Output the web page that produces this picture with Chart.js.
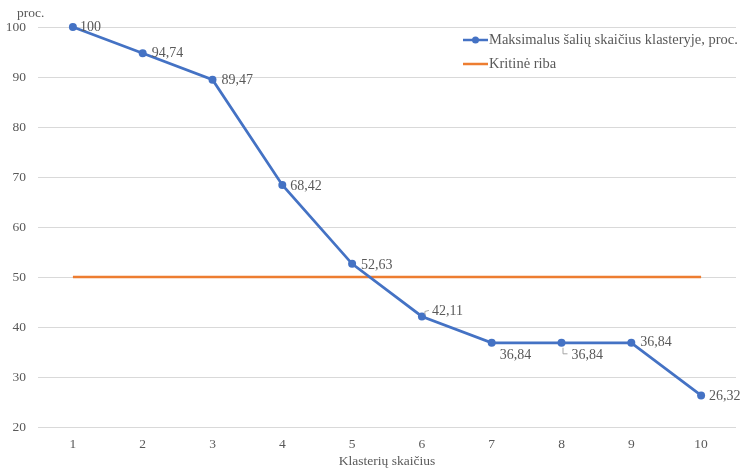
<!DOCTYPE html>
<html>
<head>
<meta charset="utf-8">
<script src="https://cdn.jsdelivr.net/npm/chart.js@4/dist/chart.umd.min.js"></script>
<style>
  html, body { margin: 0; padding: 0; background: #fff; }
  #wrap { width: 741px; height: 468px; }
</style>
</head>
<body>
<div id="wrap"><canvas id="c" width="741" height="468"></canvas></div>
<script>
// Number of clusters on the x axis
const categories = ['1', '2', '3', '4', '5', '6', '7', '8', '9', '10'];
// Maximum share of countries in one cluster, %
const maxShare = [100, 94.74, 89.47, 68.42, 52.63, 42.11, 36.84, 36.84, 36.84, 26.32];
// Critical threshold, %
const criticalLimit = [50, 50, 50, 50, 50, 50, 50, 50, 50, 50];
const seriesNames = ['Maksimalus šalių skaičius klasteryje, proc.', 'Kritinė riba'];
const axisTitleX = 'Klasterių skaičius';
const axisTitleY = 'proc.';

// Per-point label offsets (dx, dy from the marker) and optional leader lines
const labelPlacement = [
  { dx: 7, dy: 0 }, { dx: 9, dy: 0 }, { dx: 9, dy: 1 }, { dx: 8, dy: 1 },
  { dx: 9, dy: 1 }, { dx: 10, dy: -5, leader: 'up' }, { dx: 8, dy: 13 },
  { dx: 10, dy: 13, leader: 'down' }, { dx: 9, dy: 0 }, { dx: 8, dy: 1 }
];

const FONT = '"Liberation Serif", "Times New Roman", serif';
const GREY = '#595959';
const BLUE = '#4472C4';
const ORANGE = '#ED7D31';

const fmt = v => String(v).replace('.', ',');

const extras = {
  id: 'extras',
  afterDatasetsDraw(chart) {
    const ctx = chart.ctx;
    const meta = chart.getDatasetMeta(0);
    const area = chart.chartArea;
    ctx.save();
    ctx.font = '14px ' + FONT;
    ctx.fillStyle = GREY;
    ctx.textBaseline = 'middle';
    ctx.textAlign = 'left';
    meta.data.forEach((pt, i) => {
      const p = labelPlacement[i];
      const x = pt.x + p.dx, y = pt.y + p.dy;
      ctx.fillText(fmt(maxShare[i]), x, y);
      if (p.leader) {
        ctx.strokeStyle = '#a6a6a6';
        ctx.lineWidth = 1;
        ctx.beginPath();
        if (p.leader === 'up') {
          ctx.moveTo(pt.x + 3, pt.y - 2);
          ctx.lineTo(pt.x + 3, pt.y - 5);
          ctx.lineTo(pt.x + 7, pt.y - 6);
        } else {
          ctx.moveTo(pt.x + 1.5, pt.y + 5);
          ctx.lineTo(pt.x + 1.5, pt.y + 11);
          ctx.lineTo(pt.x + 6, pt.y + 11);
        }
        ctx.stroke();
      }
    });

    // axis titles
    ctx.font = '13.5px ' + FONT;
    ctx.fillText(axisTitleY, 17, 13);
    ctx.textAlign = 'center';
    ctx.fillText(axisTitleX, (area.left + area.right) / 2, 461);

    // legend inside the plot area
    ctx.textAlign = 'left';
    ctx.font = '14.5px ' + FONT;
    const lx = 463, ly = [40, 64];
    chart.data.datasets.forEach((ds, k) => {
      ctx.strokeStyle = ds.borderColor;
      ctx.lineWidth = 2.5;
      ctx.beginPath();
      ctx.moveTo(lx, ly[k]);
      ctx.lineTo(lx + 25, ly[k]);
      ctx.stroke();
      if (ds.pointRadius > 0) {
        ctx.fillStyle = ds.borderColor;
        ctx.beginPath();
        ctx.arc(lx + 12.5, ly[k], 3.5, 0, Math.PI * 2);
        ctx.fill();
      }
      ctx.fillStyle = GREY;
      ctx.fillText(ds.label, lx + 26, ly[k]);
    });
    ctx.restore();
  }
};

new Chart(document.getElementById('c'), {
  type: 'line',
  data: {
    labels: categories,
    datasets: [
      {
        label: seriesNames[0],
        data: maxShare,
        borderColor: BLUE,
        backgroundColor: BLUE,
        borderWidth: 2.75,
        pointRadius: 4,
        pointBackgroundColor: BLUE,
        pointBorderWidth: 0,
        clip: false,
        order: 0
      },
      {
        label: seriesNames[1],
        data: criticalLimit,
        borderColor: ORANGE,
        backgroundColor: ORANGE,
        borderWidth: 2.5,
        pointRadius: 0,
        order: 1
      }
    ]
  },
  options: {
    responsive: false,
    animation: false,
    devicePixelRatio: 1,
    layout: { padding: { top: 27, right: 5, left: 0, bottom: 0 } },
    plugins: { legend: { display: false }, tooltip: { enabled: false } },
    scales: {
      x: {
        offset: true,
        grid: { display: false },
        border: { display: false },
        ticks: { color: GREY, font: { family: FONT, size: 13.5 }, padding: 1 },
        afterFit(s) { s.height = 41; }
      },
      y: {
        min: 20, max: 100,
        grid: { color: '#d9d9d9', drawTicks: false, lineWidth: 1 },
        border: { display: false },
        ticks: { stepSize: 10, color: GREY, font: { family: FONT, size: 13.5 }, padding: 12 },
        afterFit(s) { s.width = 38; }
      }
    }
  },
  plugins: [extras]
});
</script>
</body>
</html>
